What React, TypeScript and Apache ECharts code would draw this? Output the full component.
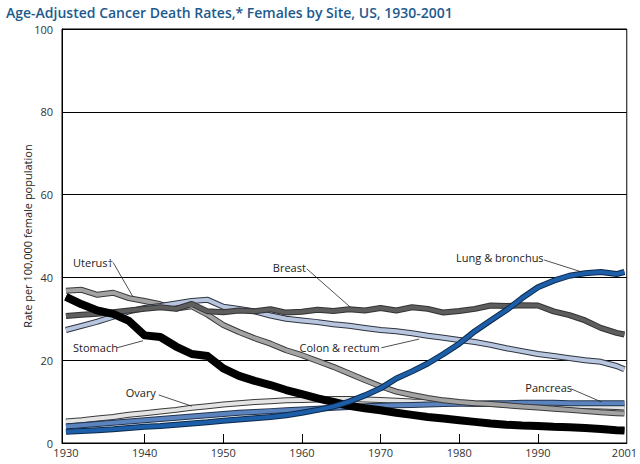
import React, { useEffect, useRef } from "react";
import * as echarts from "echarts";

const years = [1930, 1932, 1934, 1936, 1938, 1940, 1942, 1944, 1946, 1948, 1950, 1952, 1954, 1956, 1958, 1960, 1962, 1964, 1966, 1968, 1970, 1972, 1974, 1976, 1978, 1980, 1982, 1984, 1986, 1988, 1990, 1992, 1994, 1996, 1998, 2000, 2001];

const ovary = [5.2, 5.5, 5.9, 6.3, 6.8, 7.2, 7.6, 8.0, 8.5, 8.9, 9.3, 9.6, 9.9, 10.1, 10.3, 10.4, 10.5, 10.6, 10.6, 10.5, 10.4, 10.2, 10.0, 9.9, 9.8, 9.7, 9.5, 9.4, 9.3, 9.2, 9.1, 9.0, 9.0, 8.9, 8.8, 8.7, 8.6];
const pancreas = [4.0, 4.3, 4.6, 4.9, 5.2, 5.5, 5.8, 6.1, 6.4, 6.7, 7.0, 7.3, 7.5, 7.7, 7.9, 8.1, 8.3, 8.5, 8.7, 8.9, 9.0, 9.1, 9.2, 9.3, 9.4, 9.5, 9.5, 9.6, 9.6, 9.7, 9.7, 9.7, 9.6, 9.6, 9.6, 9.6, 9.6];
const uterus = [36.8, 37.0, 35.8, 36.3, 35.0, 34.3, 33.5, 32.5, 33.0, 31.0, 28.5, 26.8, 25.3, 24.0, 22.4, 21.2, 19.8, 18.4, 16.8, 15.2, 13.7, 12.4, 11.6, 10.9, 10.3, 9.9, 9.6, 9.4, 9.1, 8.8, 8.6, 8.3, 8.0, 7.7, 7.4, 7.2, 7.1];
const colon = [27.3, 28.3, 29.3, 30.5, 31.8, 32.6, 33.1, 33.7, 34.3, 34.6, 32.9, 32.4, 31.8, 30.8, 30.0, 29.6, 29.2, 28.7, 28.3, 27.8, 27.3, 27.0, 26.5, 25.9, 25.4, 24.9, 24.4, 23.7, 22.9, 22.2, 21.5, 21.0, 20.5, 20.0, 19.6, 18.6, 17.8];
const breast = [30.7, 31.0, 31.2, 31.6, 32.0, 32.4, 32.8, 32.4, 33.6, 31.8, 31.6, 32.0, 31.8, 32.3, 31.5, 31.7, 32.2, 31.9, 32.3, 32.0, 32.6, 32.0, 32.8, 32.4, 31.5, 31.9, 32.4, 33.2, 33.1, 33.3, 33.2, 31.8, 30.9, 29.6, 27.8, 26.6, 26.2];
const stomach = [35.3, 33.5, 32.0, 31.2, 29.5, 26.0, 25.6, 23.3, 21.5, 21.0, 18.0, 16.2, 15.0, 14.0, 12.8, 11.8, 10.8, 9.9, 9.0, 8.4, 7.9, 7.3, 6.8, 6.3, 5.9, 5.5, 5.1, 4.7, 4.4, 4.2, 4.1, 3.9, 3.8, 3.6, 3.4, 3.1, 3.0];
const lung = [2.7, 2.9, 3.1, 3.3, 3.6, 3.9, 4.1, 4.4, 4.7, 5.0, 5.4, 5.7, 6.0, 6.3, 6.7, 7.3, 8.0, 8.8, 10.0, 11.5, 13.2, 15.6, 17.3, 19.2, 21.5, 24.0, 27.0, 29.6, 32.1, 35.0, 37.6, 39.2, 40.4, 41.0, 41.3, 40.8, 41.3];

const xTickLabels = [1930, 1940, 1950, 1960, 1970, 1980, 1990, 2001];
const yTickLabels = [0, 20, 40, 60, 80, 100];

const seriesDefs = [
  { name: "Ovary", values: ovary, color: "#e4e4e4", outline: "#3a3a3a", width: 4 },
  { name: "Pancreas", values: pancreas, color: "#5b84bf", outline: "#22344f", width: 4 },
  { name: "Uterus", values: uterus, color: "#a3a3a3", outline: "#3a3a3a", width: 4 },
  { name: "Colon & rectum", values: colon, color: "#b8c5df", outline: "#2e3440", width: 4 },
  { name: "Breast", values: breast, color: "#5e5e5e", outline: "#333333", width: 4 },
  { name: "Stomach", values: stomach, color: "#000000", outline: "#000000", width: 6 },
  { name: "Lung & bronchus", values: lung, color: "#1d5ea8", outline: "#0d2a4e", width: 4 },
];

const annotations = [
  { text: "Uterus\u2020", at: [1930.9, 43.5], from: [1936.0, 43.6], to: [1938.5, 35.4] },
  { text: "Breast", at: [1956.3, 42.5], from: [1960.6, 42.1], to: [1966.1, 32.9] },
  { text: "Stomach", at: [1930.9, 23.0], from: [1936.5, 23.0], to: [1939.8, 24.7] },
  { text: "Colon & rectum", at: [1959.7, 23.0], from: [1970.1, 23.0], to: [1974.9, 25.1] },
  { text: "Ovary", at: [1937.6, 12.1], from: [1941.8, 11.6], to: [1946.0, 8.9] },
  { text: "Lung & bronchus", at: [1979.6, 44.7], from: [1990.8, 44.2], to: [1995.6, 41.3] },
  { text: "Pancreas", at: [1988.4, 13.5], from: [1994.2, 13.1], to: [1998.1, 9.9] },
];

const FONT = "'Open Sans', 'Noto Sans', sans-serif";

export default function App() {
  const ref = useRef<HTMLDivElement>(null);
  useEffect(() => {
    if (!ref.current) return;
    const chart = echarts.init(ref.current, null, { renderer: "svg" });
    const series: any[] = [];
    seriesDefs.forEach((s, i) => {
      const data = years.map((y, k) => [y, s.values[k]]);
      series.push({
        name: s.name + "-outline",
        type: "line",
        data,
        symbol: "none",
        silent: true,
        z: 2 + i * 2,
        lineStyle: { color: s.outline, width: s.width + 2, join: "round", cap: "butt" },
      });
      series.push({
        name: s.name,
        type: "line",
        data,
        symbol: "none",
        silent: true,
        z: 3 + i * 2,
        lineStyle: { color: s.color, width: s.width, join: "round", cap: "butt" },
      });
    });
    chart.setOption({
      animation: false,
      backgroundColor: "#ffffff",
      title: {
        text: "Age-Adjusted Cancer Death Rates,* Females by Site, US, 1930-2001",
        left: 6,
        top: 4,
        padding: 0,
        textStyle: { color: "#1d5a8e", fontSize: 14, fontWeight: 600, fontFamily: FONT, lineHeight: 16 },
      },
      grid: { left: 62, right: 12, top: 29, bottom: 21, show: true, borderColor: "#000", borderWidth: 1 },
      xAxis: {
        type: "value",
        min: 1929.5,
        max: 2001.3,
        axisLine: { show: true, lineStyle: { color: "#000", width: 1 } },
        splitLine: { show: false },
        axisTick: { show: true, inside: true, length: 9, customValues: xTickLabels.slice(1, 7), lineStyle: { color: "#000" } },
        axisLabel: { customValues: xTickLabels, color: "#333", fontSize: 11, fontFamily: FONT, margin: 4, formatter: (v: number) => String(v) },
      },
      yAxis: {
        type: "value",
        min: 0,
        max: 100,
        interval: 20,
        name: "Rate per 100,000 female population",
        nameLocation: "middle",
        nameGap: 29,
        nameMoveOverlap: false,
        nameTextStyle: { color: "#222", fontSize: 11, fontFamily: FONT },
        axisLine: { show: true, lineStyle: { color: "#000" } },
        axisTick: { show: false },
        splitLine: { show: true, lineStyle: { color: "#000", width: 1 } },
        axisLabel: { color: "#333", fontSize: 11, fontFamily: FONT, margin: 9, customValues: yTickLabels },
      },
      series,
    });
    const graphic: any[] = [];
    annotations.forEach((a) => {
      const p = chart.convertToPixel({ gridIndex: 0 }, a.at) as number[];
      const f = chart.convertToPixel({ gridIndex: 0 }, a.from) as number[];
      const t = chart.convertToPixel({ gridIndex: 0 }, a.to) as number[];
      graphic.push({
        type: "text",
        x: p[0],
        y: p[1],
        z: 100,
        style: { text: a.text, fill: "#222", fontSize: 11, fontFamily: FONT, align: "left", verticalAlign: "middle" },
      });
      graphic.push({
        type: "line",
        z: 100,
        shape: { x1: f[0], y1: f[1], x2: t[0], y2: t[1] },
        style: { stroke: "#222", lineWidth: 0.8 },
      });
    });
    chart.setOption({ graphic });
    return () => chart.dispose();
  }, []);
  return (
    <div
      ref={ref}
      style={{ position: "fixed", left: 0, top: 0, width: 640, height: 464, background: "#fff" }}
    />
  );
}
